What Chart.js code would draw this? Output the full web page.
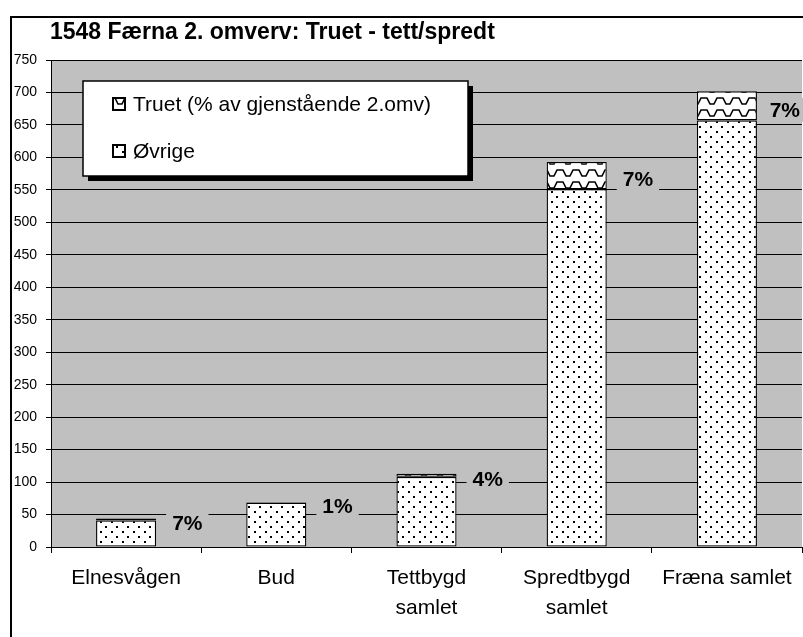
<!DOCTYPE html>
<html>
<head>
<meta charset="utf-8">
<script src="https://cdn.jsdelivr.net/npm/chart.js@4/dist/chart.umd.min.js"></script>
<style>
  html, body { margin: 0; padding: 0; background: #fff; }
  #wrap { position: relative; width: 803px; height: 637px; }
</style>
</head>
<body>
<div id="wrap"><canvas id="c" width="803" height="637"></canvas></div>
<script>
// ---- data ----
const chartTitle = "1548 Færna 2. omverv: Truet - tett/spredt";
const categories = [["Elnesvågen"], ["Bud"], ["Tettbygd", "samlet"], ["Spredtbygd", "samlet"], ["Fræna samlet"]];
const seriesNames = ["Øvrige", "Truet (% av gjenstående 2.omv)"];
const ovrigeValues = [41, 68.3, 108, 551, 657];
const truetValues = [3, 0.7, 5, 42, 45];
const truetPctLabels = ["7%", "1%", "4%", "7%", "7%"];
const yMin = 0, yMax = 750, yStep = 50;

// ---- patterns ----
function dotPattern() {
  const c = document.createElement('canvas');
  c.width = 11; c.height = 10;
  const x = c.getContext('2d');
  x.fillStyle = '#fff'; x.fillRect(0, 0, 11, 10);
  x.fillStyle = '#000';
  x.fillRect(1, 1, 2, 2);
  x.fillRect(6, 6, 2, 2);
  return x.createPattern(c, 'repeat');
}
function wavePattern() {
  const c = document.createElement('canvas');
  c.width = 16; c.height = 12;
  const x = c.getContext('2d');
  x.fillStyle = '#fff'; x.fillRect(0, 0, 16, 12);
  x.strokeStyle = '#000'; x.lineWidth = 1.6;
  x.beginPath();
  x.moveTo(0, 2); x.lineTo(3, 2); x.lineTo(6, 8); x.lineTo(10, 8); x.lineTo(13, 2); x.lineTo(16, 2);
  x.stroke();
  return x.createPattern(c, 'repeat');
}
const patOvrige = dotPattern();
const patTruet = wavePattern();

const FONT = "'Liberation Sans', Arial, sans-serif";

const decorPlugin = {
  id: 'decor',
  beforeDraw(chart) {
    const ctx = chart.ctx, a = chart.chartArea;
    ctx.save();
    ctx.fillStyle = '#fff';
    ctx.fillRect(0, 0, chart.width, chart.height);
    ctx.fillStyle = '#c0c0c0';
    ctx.fillRect(a.left, a.top, a.right - a.left, a.bottom - a.top);
    ctx.restore();
  },
  afterDraw(chart) {
    const ctx = chart.ctx;
    ctx.save();
    // outer frame
    ctx.strokeStyle = '#000'; ctx.lineWidth = 2;
    ctx.beginPath();
    ctx.moveTo(11, chart.height + 5); ctx.lineTo(11, 17); ctx.lineTo(chart.width + 5, 17);
    ctx.stroke();
    // title
    ctx.fillStyle = '#000';
    ctx.font = "bold 23px " + FONT;
    ctx.textBaseline = 'middle'; ctx.textAlign = 'left';
    ctx.fillText(chartTitle, 50, 33);

    // data labels for Truet segments
    const meta = chart.getDatasetMeta(1);
    ctx.font = "bold 21px " + FONT;
    meta.data.forEach((el, i) => {
      const p = el.getProps(['x', 'y', 'base', 'width'], true);
      const tw = ctx.measureText(truetPctLabels[i]).width;
      let tx = p.x + p.width / 2 + 16;
      tx = Math.min(tx, chart.width - 3 - tw);
      const ty = (p.y + p.base) / 2 + 4;
      ctx.fillStyle = '#c0c0c0';
      ctx.fillRect(tx - 6, ty - 12, tw + 12, 24);
      ctx.fillStyle = '#000';
      ctx.fillText(truetPctLabels[i], tx, ty + 1);
    });

    // legend
    const lx = 83, ly = 81, lw = 385, lh = 95;
    ctx.fillStyle = '#000';
    ctx.fillRect(lx + 5, ly + 5, lw, lh);
    ctx.fillStyle = '#fff';
    ctx.fillRect(lx, ly, lw, lh);
    ctx.strokeStyle = '#000'; ctx.lineWidth = 1.5;
    ctx.strokeRect(lx, ly, lw, lh);
    const items = [
      { text: seriesNames[1], pat: patTruet, y: 104 },
      { text: seriesNames[0], pat: patOvrige, y: 151 }
    ];
    ctx.font = "21px " + FONT;
    items.forEach(it => {
      ctx.fillStyle = it.pat;
      ctx.fillRect(113, it.y - 6, 12, 12);
      ctx.strokeStyle = '#000'; ctx.lineWidth = 2;
      ctx.strokeRect(113, it.y - 6, 12, 12);
      ctx.fillStyle = '#000';
      ctx.fillText(it.text, 133, it.y + 1);
    });
    ctx.restore();
  }
};

new Chart(document.getElementById('c'), {
  type: 'bar',
  data: {
    labels: categories,
    datasets: [
      { label: seriesNames[0], data: ovrigeValues, backgroundColor: patOvrige, borderColor: '#000', borderWidth: 1.3, borderSkipped: false },
      { label: seriesNames[1], data: truetValues, backgroundColor: patTruet, borderColor: '#000', borderWidth: 1.3, borderSkipped: false }
    ]
  },
  options: {
    responsive: false,
    animation: false,
    datasets: { bar: { barPercentage: 0.4, categoryPercentage: 1.0 } },
    layout: { padding: { left: 10, top: 60, right: 1, bottom: 0 } },
    plugins: { legend: { display: false }, tooltip: { enabled: false }, title: { display: false } },
    scales: {
      x: {
        stacked: true,
        grid: { display: true, drawOnChartArea: false, drawTicks: true, tickLength: 6, color: '#000', offset: true },
        border: { color: '#000', width: 1 },
        ticks: { color: '#000', font: { family: FONT, size: 21, lineHeight: 1.4 }, padding: 11, maxRotation: 0, autoSkip: false },
        afterFit(s) { s.height = 90; }
      },
      y: {
        stacked: true,
        min: yMin, max: yMax,
        grid: { color: '#000', lineWidth: 1, tickLength: 5 },
        border: { color: '#000', width: 1 },
        ticks: { stepSize: yStep, color: '#000', font: { family: FONT, size: 14 }, padding: 9 },
        afterFit(s) { s.width = 41; }
      }
    }
  },
  plugins: [decorPlugin]
});
</script>
</body>
</html>
